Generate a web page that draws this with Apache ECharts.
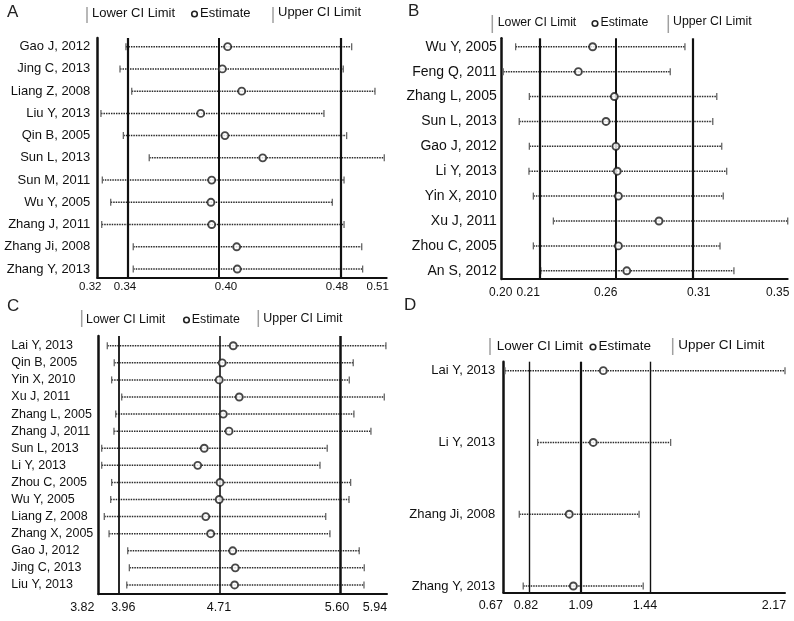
<!DOCTYPE html>
<html>
<head>
<meta charset="utf-8">
<script src="https://cdn.jsdelivr.net/npm/echarts@6/dist/echarts.min.js"></script>
<style>html,body{margin:0;padding:0;background:#fff}#c{width:794px;height:621px}</style>
</head>
<body>
<div id="c"></div>
<script>
// ---------- Panel A ----------
const A_studies = ['Gao J, 2012','Jing C, 2013','Liang Z, 2008','Liu Y, 2013','Qin B, 2005','Sun L, 2013','Sun M, 2011','Wu Y, 2005','Zhang J, 2011','Zhang Ji, 2008','Zhang Y, 2013'];
const A_lower = [0.3388,0.3349,0.3426,0.3224,0.3371,0.3541,0.3233,0.3288,0.3229,0.3436,0.3436];
const A_est   = [0.4056,0.4021,0.4148,0.3879,0.4038,0.4286,0.3951,0.3946,0.3951,0.4115,0.4119];
const A_upper = [0.4870,0.4815,0.5023,0.4688,0.4837,0.5084,0.4820,0.4743,0.4820,0.4936,0.4942];
const A_ref = [0.3382,0.4045,0.4833];
const A_range = [0.32,0.51];
const A_tickLabels = ['0.32','0.34','0.40','0.48','0.51'];

// ---------- Panel B ----------
const B_studies = ['Wu Y, 2005','Feng Q, 2011','Zhang L, 2005','Sun L, 2013','Gao J, 2012','Li Y, 2013','Yin X, 2010','Xu J, 2011','Zhou C, 2005','An S, 2012'];
const B_lower = [0.2073,0.2008,0.2145,0.2092,0.2145,0.2143,0.2166,0.2271,0.2166,0.2205];
const B_est   = [0.2477,0.2402,0.2591,0.2547,0.2599,0.2606,0.2612,0.2825,0.2612,0.2656];
const B_upper = [0.2961,0.2884,0.3128,0.3107,0.3154,0.3180,0.3162,0.3500,0.3145,0.3218];
const B_ref = [0.2152,0.2559,0.3044];
const B_range = [0.20,0.35];
const B_tickLabels = ['0.20','0.21','0.26','0.31','0.35'];

// ---------- Panel C ----------
const C_studies = ['Lai Y, 2013','Qin B, 2005','Yin X, 2010','Xu J, 2011','Zhang L, 2005','Zhang J, 2011','Sun L, 2013','Li Y, 2013','Zhou C, 2005','Wu Y, 2005','Liang Z, 2008','Zhang X, 2005','Gao J, 2012','Jing C, 2013','Liu Y, 2013'];
const C_lower = [3.886,3.937,3.918,3.992,3.948,3.935,3.845,3.845,3.918,3.911,3.864,3.899,4.036,4.048,4.029];
const C_est   = [4.811,4.730,4.708,4.855,4.738,4.780,4.598,4.550,4.714,4.708,4.609,4.645,4.807,4.826,4.821];
const C_upper = [5.932,5.692,5.663,5.920,5.697,5.822,5.501,5.448,5.673,5.661,5.490,5.521,5.736,5.773,5.771];
const C_ref = [3.967,4.706,5.602];
const C_range = [3.82,5.94];
const C_tickLabels = ['3.82','3.96','4.71','5.60','5.94'];

// ---------- Panel D ----------
const D_studies = ['Lai Y, 2013','Li Y, 2013','Zhang Ji, 2008','Zhang Y, 2013'];
const D_lower = [0.679,0.853,0.755,0.776];
const D_est   = [1.2025,1.149,1.021,1.043];
const D_upper = [2.170,1.561,1.393,1.415];
const D_ref = [0.812,1.082,1.446];
const D_range = [0.67,2.17];
const D_tickLabels = ['0.67','0.82','1.09','1.44','2.17'];

const legendTexts = ['Lower CI Limit','Estimate','Upper CI Limit'];
const panelLetters = ['A','B','C','D'];

// ---------- layout / style (not data) ----------
const FONT = '"Liberation Sans", Arial, sans-serif';
const TXT = '#111';
const layouts = [
  {grid:{left:97.3, top:38, width:289.4, height:239.7}, yr:[-0.39,10.39], catFont:13, catAlign:'right', catMargin:7,
   tickFont:11.5, tickMargin:3, tickShift:[-7,0,0,-9,-9], refW:[2.2,2,2.2]},
  {grid:{left:501.7, top:38.3, width:286, height:240.7}, yr:[-0.34,9.33], catFont:14, catAlign:'right', catMargin:5,
   tickFont:12, tickMargin:8, tickShift:[-1,-2.5,-2.5,-2,-10], refW:[2.2,2,2.2]},
  {grid:{left:98.3, top:336, width:288.7, height:258}, yr:[-0.57,14.53], catFont:12.5, catAlign:'left', catMargin:87,
   tickFont:12.5, tickMargin:7, tickShift:[-16,5,0,-4,-12], refW:[1.8,1.6,2.5]},
  {grid:{left:503.3, top:361.7, width:281.7, height:230.6}, yr:[-0.125,3.088], catFont:13, catAlign:'right', catMargin:8,
   tickFont:12.5, tickMargin:7, tickShift:[-12.5,-4,0,-4,-11], refW:[1.4,2.2,1.4]}
];
const legendPos = [
  {bar1:87, t1:92, circ:194.5, t2:200, bar2:273, t3:278, y:13.5, by:[7,23], fs:13},
  {bar1:492.3, t1:497.7, circ:595, t2:600.5, bar2:668.3, t3:673, y:23, by:[15,33], fs:12.3},
  {bar1:81.7, t1:86, circ:186.5, t2:191.7, bar2:258.3, t3:263.3, y:319.5, by:[310,327], fs:12.4},
  {bar1:490, t1:496.7, circ:593, t2:598.5, bar2:672.7, t3:678.3, y:346.5, by:[338,355], fs:13.5}
];
const letterPos = [[7,12],[408,11],[7,306],[404,305]];

const panels = [
  {studies:A_studies, lower:A_lower, est:A_est, upper:A_upper, ref:A_ref, range:A_range, labels:A_tickLabels},
  {studies:B_studies, lower:B_lower, est:B_est, upper:B_upper, ref:B_ref, range:B_range, labels:B_tickLabels},
  {studies:C_studies, lower:C_lower, est:C_est, upper:C_upper, ref:C_ref, range:C_range, labels:C_tickLabels},
  {studies:D_studies, lower:D_lower, est:D_est, upper:D_upper, ref:D_ref, range:D_range, labels:D_tickLabels}
];

const grids = [], xAxes = [], yAxes = [], series = [], graphics = [];

panels.forEach((p, k) => {
  const L = layouts[k];
  grids.push(Object.assign({containLabel:false}, L.grid));
  const tickVals = [p.range[0], p.ref[0], p.ref[1], p.ref[2], p.range[1]];
  const rich = {};
  L.tickShift.forEach((s, i) => {
    rich['s' + i] = {fontSize:L.tickFont, fontFamily:FONT, color:TXT,
      padding: s < 0 ? [0, -2 * s, 0, 0] : [0, 0, 0, 2 * s]};
  });
  xAxes.push({
    type:'value', gridIndex:k, min:p.range[0], max:p.range[1],
    axisLine:{show:true, onZero:false, lineStyle:{color:'#111', width:2}},
    axisTick:{show:false}, splitLine:{show:false},
    axisLabel:{
      customValues: tickVals, margin:L.tickMargin, hideOverlap:false,
      formatter: function (v) {
        let bi = 0, bd = Infinity;
        tickVals.forEach((t, i) => { const d = Math.abs(t - v); if (d < bd) { bd = d; bi = i; } });
        return '{s' + bi + '|' + p.labels[bi] + '}';
      },
      rich: rich
    }
  });
  const idxs = p.studies.map((_, i) => i);
  yAxes.push({
    type:'value', gridIndex:k, inverse:true, min:L.yr[0], max:L.yr[1],
    axisLine:{show:true, onZero:false, lineStyle:{color:'#111', width:2.5}},
    axisTick:{show:false}, splitLine:{show:false},
    axisLabel:{
      customValues: idxs, margin:L.catMargin, align:L.catAlign,
      fontSize:L.catFont, fontFamily:FONT, color:TXT,
      formatter: function (v) { return p.studies[Math.round(v)] || ''; }
    }
  });
  series.push({
    type:'custom', xAxisIndex:k, yAxisIndex:k, z:2, silent:true,
    data: p.studies.map((_, i) => [p.lower[i], p.upper[i], i]),
    encode:{x:[0,1], y:2},
    renderItem: function (params, api) {
      const a = api.coord([api.value(0), api.value(2)]);
      const b = api.coord([api.value(1), api.value(2)]);
      const h = 3.5;
      return {type:'group', children:[
        {type:'line', shape:{x1:a[0], y1:a[1], x2:b[0], y2:b[1]},
         style:{stroke:'#2a2a2a', lineWidth:1.5, lineDash:[1.5,1]}},
        {type:'line', shape:{x1:a[0], y1:a[1]-h, x2:a[0], y2:a[1]+h}, style:{stroke:'#666', lineWidth:1.3}},
        {type:'line', shape:{x1:b[0], y1:b[1]-h, x2:b[0], y2:b[1]+h}, style:{stroke:'#666', lineWidth:1.3}}
      ]};
    },
    markLine:{
      silent:true, symbol:['none','none'], label:{show:false}, animation:false,
      data: p.ref.map((v, i) => ({xAxis:v, lineStyle:{color:'#111', width:L.refW[i], type:'solid'}}))
    }
  });
  series.push({
    type:'scatter', xAxisIndex:k, yAxisIndex:k, z:5, silent:true,
    symbol:'circle', symbolSize:7,
    itemStyle:{color:'#fff', borderColor:'#1a1a1a', borderWidth:1.9},
    data: p.studies.map((_, i) => [p.est[i], i])
  });

  // legend row
  const G = legendPos[k];
  graphics.push({type:'rect', shape:{x:G.bar1 - 0.75, y:G.by[0], width:1.5, height:G.by[1]-G.by[0]}, style:{fill:'#a0a0a0'}});
  graphics.push({type:'text', x:G.t1, y:G.y, style:{text:legendTexts[0], font:G.fs + 'px ' + FONT, fill:TXT, verticalAlign:'middle'}});
  graphics.push({type:'circle', shape:{cx:G.circ, cy:G.y + 0.5, r:2.8}, style:{fill:'#fff', stroke:'#222', lineWidth:1.6}});
  graphics.push({type:'text', x:G.t2, y:G.y, style:{text:legendTexts[1], font:G.fs + 'px ' + FONT, fill:TXT, verticalAlign:'middle'}});
  graphics.push({type:'rect', shape:{x:G.bar2 - 0.75, y:G.by[0], width:1.5, height:G.by[1]-G.by[0]}, style:{fill:'#a0a0a0'}});
  graphics.push({type:'text', x:G.t3, y:G.y - 1, style:{text:legendTexts[2], font:G.fs + 'px ' + FONT, fill:TXT, verticalAlign:'middle'}});
  graphics.push({type:'text', x:letterPos[k][0], y:letterPos[k][1], style:{text:panelLetters[k], font:'17px ' + FONT, fill:'#222', verticalAlign:'middle'}});
});

const chart = echarts.init(document.getElementById('c'), null, {renderer:'canvas'});
chart.setOption({
  animation:false,
  backgroundColor:'#fff',
  grid:grids, xAxis:xAxes, yAxis:yAxes, series:series, graphic:graphics
});
</script>
</body>
</html>
